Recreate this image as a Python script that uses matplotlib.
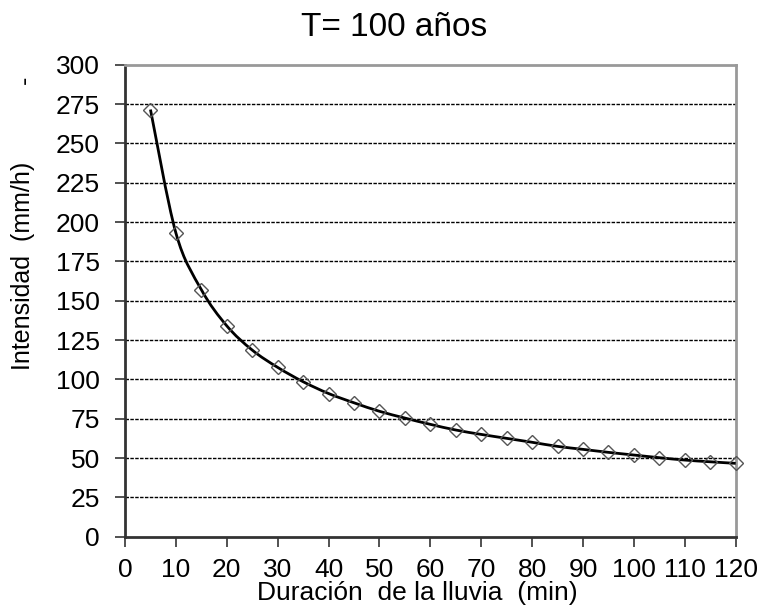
import matplotlib
matplotlib.use("Agg")
import matplotlib.pyplot as plt
import numpy as np
from matplotlib.path import Path
from matplotlib.patches import PathPatch

plt.rcParams['font.family'] = ['Liberation Sans', 'DejaVu Sans']

# data
duracion = [5, 10, 15, 20, 25, 30, 35, 40, 45, 50, 55, 60,
            65, 70, 75, 80, 85, 90, 95, 100, 105, 110, 115, 120]
intensidad = [271.5, 193, 157, 134, 118.6, 107.6, 98.5, 91, 85.1, 79.7, 75.4, 71.4,
              67.8, 65, 62.5, 60, 57.4, 55.5, 53.6, 51.9, 50.2, 48.7, 47.6, 46.6]
xticks = list(range(0, 121, 10))
yticks = list(range(0, 301, 25))

fig = plt.figure(figsize=(7.6, 6.08), dpi=100)
ax = fig.add_axes([0.1645, 0.1173, 0.8035, 0.7763])

# smoothed line (bezier segments through the points, like excel's smooth line)
x = np.array(duracion, dtype=float)
y = np.array(intensidad, dtype=float)
verts = [(x[0], y[0])]
codes = [Path.MOVETO]
n = len(x)
for i in range(n - 1):
    x0, y0 = (x[i - 1], y[i - 1]) if i > 0 else (x[i], y[i])
    x3, y3 = (x[i + 2], y[i + 2]) if i + 2 < n else (x[i + 1], y[i + 1])
    c1 = (x[i] + (x[i + 1] - x0) / 6, y[i] + (y[i + 1] - y0) / 6)
    c2 = (x[i + 1] - (x3 - x[i]) / 6, y[i + 1] - (y3 - y[i]) / 6)
    verts += [c1, c2, (x[i + 1], y[i + 1])]
    codes += [Path.CURVE4] * 3
ax.add_patch(PathPatch(Path(verts, codes), facecolor='none', edgecolor='black',
                       lw=2, zorder=3))

ax.plot(duracion, intensidad, linestyle='none', marker='D', markersize=7,
        markerfacecolor='none', markeredgecolor='#555555', markeredgewidth=1,
        zorder=4, clip_on=False)

ax.set_xlim(0, 120)
ax.set_ylim(0, 300)
ax.set_xticks(xticks)
ax.set_yticks(yticks)
ax.tick_params(axis='both', direction='out', length=7, width=1.2, labelsize=19,
               color='#333333')
ax.tick_params(axis='y', pad=11)
ax.tick_params(axis='x', pad=8)

for v in yticks[1:-1]:
    ax.axhline(v, color='black', lw=1, linestyle=(0, (2.5, 1)), zorder=1)

ax.spines['left'].set_color('#333333')
ax.spines['left'].set_linewidth(2)
ax.spines['bottom'].set_color('#333333')
ax.spines['bottom'].set_linewidth(2)
ax.spines['top'].set_color('#999999')
ax.spines['top'].set_linewidth(2)
ax.spines['right'].set_color('#999999')
ax.spines['right'].set_linewidth(2)

fig.text(0.518, 0.955, 'T= 100 años', ha='center', va='center', fontsize=24)
fig.text(0.549, 0.025, 'Duración  de la lluvia  (min)', ha='center', va='center',
         fontsize=19)
fig.text(0.03, 0.562, 'Intensidad  (mm/h)', ha='center', va='center',
         rotation=90, fontsize=18)
fig.text(0.033, 0.868, '-', ha='center', va='center', rotation=90, fontsize=18)

fig.savefig('out.png', dpi=100)
